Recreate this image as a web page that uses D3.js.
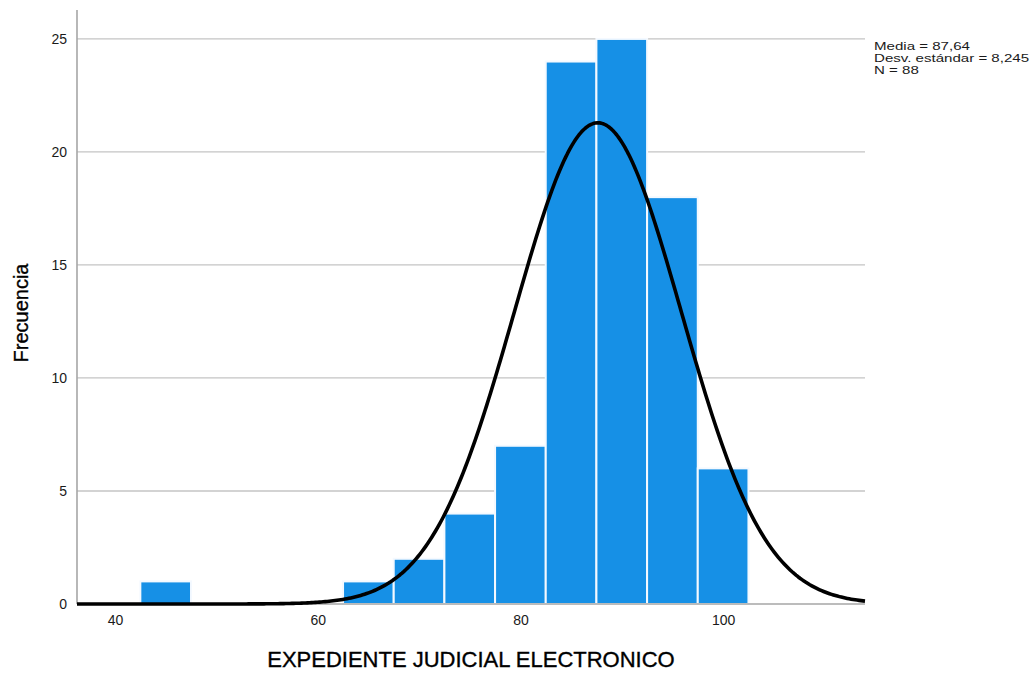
<!DOCTYPE html>
<html>
<head>
<meta charset="utf-8">
<script src="https://cdn.jsdelivr.net/npm/d3@7/dist/d3.min.js"></script>
<style>
  html, body { margin: 0; padding: 0; background: #ffffff; }
  svg { display: block; font-family: "Liberation Sans", Arial, sans-serif; }
</style>
</head>
<body>
<svg id="chart" width="1036" height="673"></svg>
<script>
// ---- data ----
const binCenters = [45, 65, 70, 75, 80, 85, 90, 95, 100];
const frequencies = [1, 1, 2, 4, 7, 24, 25, 18, 6];
const binWidth = 5;
const xTicks = [40, 60, 80, 100];
const yTicks = [0, 5, 10, 15, 20, 25];
const statMean = 87.64;
const statSd = 8.245;
const statN = 88;
const legendLines = ["Media = 87,64", "Desv. estándar = 8,245", "N = 88"];
const xTitle = "EXPEDIENTE JUDICIAL ELECTRONICO";
const yTitle = "Frecuencia";

// ---- layout ----
const svg = d3.select("#chart");
const plot = { left: 77, right: 865, top: 10, bottom: 604 };

const x = d3.scaleLinear().domain([36.25, 114]).range([plot.left, plot.right]);
const y = d3.scaleLinear().domain([0, 26.28]).range([plot.bottom, plot.top]);

// gridlines
svg.append("g")
  .selectAll("line")
  .data(yTicks.filter(d => d > 0))
  .join("line")
  .attr("x1", plot.left).attr("x2", plot.right)
  .attr("y1", d => y(d)).attr("y2", d => y(d))
  .attr("stroke", "#c4c4c4").attr("stroke-width", 1.3);

// bars
svg.append("g")
  .selectAll("rect")
  .data(binCenters.map((c, i) => ({ c, f: frequencies[i] })))
  .join("rect")
  .attr("x", d => x(d.c - binWidth / 2))
  .attr("width", d => x(d.c + binWidth / 2) - x(d.c - binWidth / 2))
  .attr("y", d => y(d.f))
  .attr("height", d => y(0) - y(d.f))
  .attr("fill", "#1690e6")
  .attr("stroke", "#f4f9ff")
  .attr("stroke-width", 2);

// axes lines
svg.append("line")
  .attr("x1", plot.left).attr("x2", plot.left)
  .attr("y1", plot.top).attr("y2", plot.bottom)
  .attr("stroke", "#a6a6a6").attr("stroke-width", 1.6);
svg.append("line")
  .attr("x1", plot.left).attr("x2", plot.right)
  .attr("y1", plot.bottom).attr("y2", plot.bottom)
  .attr("stroke", "#a6a6a6").attr("stroke-width", 1.6);

// normal curve (fitted from the reported statistics)
const dens = xv => statN * binWidth / (statSd * Math.sqrt(2 * Math.PI)) *
  Math.exp(-0.5 * Math.pow((xv - statMean) / statSd, 2));
const [x0, x1] = x.domain();
const curvePts = d3.range(0, 401).map(i => x0 + (x1 - x0) * i / 400);
svg.append("path")
  .datum(curvePts)
  .attr("d", d3.line().x(d => x(d)).y(d => y(dens(d))))
  .attr("fill", "none")
  .attr("stroke", "#000000")
  .attr("stroke-width", 3.6)
  .attr("stroke-linejoin", "round");

// axes labels via d3 axes
const yAxis = d3.axisLeft(y).tickValues(yTicks).tickSize(0).tickPadding(10).tickFormat(d3.format("d"));
const gy = svg.append("g").attr("transform", `translate(${plot.left},0)`).call(yAxis);
gy.select(".domain").remove();
gy.selectAll("text").attr("font-size", 14).attr("fill", "#1a1a1a").attr("font-family", "Liberation Sans, Arial, sans-serif");

const xAxis = d3.axisBottom(x).tickValues(xTicks).tickSize(0).tickPadding(11).tickFormat(d3.format("d"));
const gx = svg.append("g").attr("transform", `translate(0,${plot.bottom})`).call(xAxis);
gx.select(".domain").remove();
gx.selectAll("text").attr("font-size", 14).attr("fill", "#1a1a1a").attr("font-family", "Liberation Sans, Arial, sans-serif");

// titles
svg.append("text")
  .attr("x", 471)
  .attr("y", 667)
  .attr("text-anchor", "middle")
  .attr("font-size", 22)
  .attr("fill", "#000")
  .attr("stroke", "#000").attr("stroke-width", 0.35)
  .text(xTitle);

svg.append("text")
  .attr("transform", `translate(28,${313}) rotate(-90)`)
  .attr("text-anchor", "middle")
  .attr("font-size", 20)
  .attr("fill", "#000")
  .attr("stroke", "#000").attr("stroke-width", 0.35)
  .text(yTitle);

// legend
svg.append("g")
  .selectAll("text")
  .data(legendLines)
  .join("text")
  .attr("transform", (d, i) => `translate(874,${49.5 + i * 12.3}) scale(1.37,1)`)
  .attr("font-size", 11)
  .attr("fill", "#1a1a1a")
  .text(d => d);
</script>
</body>
</html>
